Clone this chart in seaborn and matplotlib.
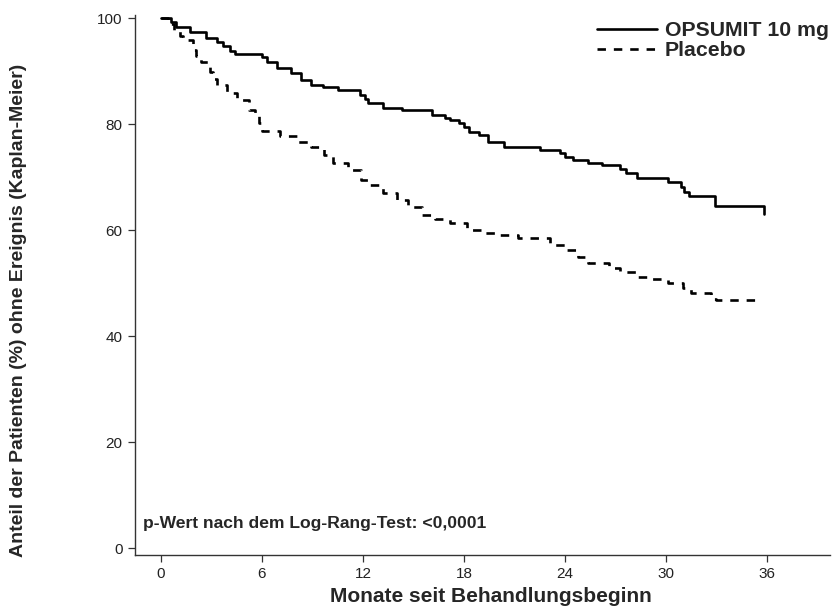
import matplotlib
matplotlib.use("Agg")
import matplotlib.pyplot as plt
import seaborn as sns
import pandas as pd

# ---- data ----
opsumit_months = [0, 0.6, 0.9, 1.7, 2.7, 3.3, 3.7, 4.1, 4.4, 6.0, 6.3, 6.9, 7.7, 8.3, 8.9,
                  9.6, 10.5, 11.8, 12.1, 12.3, 13.2, 14.3, 16.1, 16.9, 17.2, 17.7, 18.0,
                  18.3, 18.9, 19.4, 20.4, 22.5, 23.7, 24.0, 24.5, 25.4, 26.2, 27.3, 27.6,
                  28.3, 30.1, 30.9, 31.1, 31.4, 32.9, 35.8]
opsumit_surv = [100, 99.2, 98.3, 97.4, 96.2, 95.5, 94.7, 93.8, 93.2, 92.6, 91.7, 90.6, 89.6,
                88.3, 87.4, 87.0, 86.4, 85.5, 84.8, 84.0, 83.0, 82.6, 81.7, 81.2, 80.8,
                80.2, 79.4, 78.5, 77.9, 76.6, 75.7, 75.1, 74.5, 73.8, 73.2, 72.6, 72.3,
                71.5, 70.8, 69.8, 69.1, 68.2, 67.2, 66.4, 64.5, 63.0]

placebo_months = [0, 0.4, 0.8, 1.1, 1.3, 1.9, 2.1, 2.4, 2.9, 3.1, 3.3, 3.9, 4.5, 5.2, 5.6,
                  5.8, 6.0, 7.1, 8.1, 8.9, 9.7, 10.2, 11.1, 11.9, 12.3, 13.2, 14.0, 14.7,
                  15.5, 16.3, 17.2, 18.2, 19.0, 20.1, 21.2, 23.1, 24.0, 24.8, 25.4, 26.6,
                  27.3, 28.3, 29.1, 30.1, 31.0, 31.5, 32.7, 33.0, 35.6]
placebo_surv = [100, 98.9, 97.7, 96.6, 95.8, 94.0, 92.8, 91.7, 89.8, 88.5, 87.4, 85.8, 84.5,
                82.6, 81.5, 80.2, 78.7, 77.7, 76.6, 75.7, 74.2, 72.6, 71.3, 69.4, 68.5,
                67.0, 65.7, 64.3, 62.8, 62.1, 61.3, 60.0, 59.4, 59.1, 58.5, 57.2, 56.2,
                54.9, 53.8, 52.8, 52.1, 51.1, 50.8, 50.0, 49.1, 48.1, 47.0, 46.8, 46.8]

groups = ["OPSUMIT 10 mg", "Placebo"]
x_ticks = [0, 6, 12, 18, 24, 30, 36]
y_ticks = [0, 20, 40, 60, 80, 100]

x_label = "Monate seit Behandlungsbeginn"
y_label = "Anteil der Patienten (%) ohne Ereignis (Kaplan-Meier)"
p_text = "p-Wert nach dem Log-Rang-Test: <0,0001"

df = pd.concat([
    pd.DataFrame({"Monate": opsumit_months, "Anteil": opsumit_surv, "Gruppe": groups[0]}),
    pd.DataFrame({"Monate": placebo_months, "Anteil": placebo_surv, "Gruppe": groups[1]}),
], ignore_index=True)

sns.set_theme(style="ticks")
plt.rcParams["font.family"] = ["Liberation Sans", "DejaVu Sans"]

fig = plt.figure(figsize=(8.32, 6.10), dpi=100)
ax = fig.add_axes([135 / 832, 1 - 555 / 610, (830 - 135) / 832, (555 - 15) / 610])

sns.lineplot(data=df, x="Monate", y="Anteil", hue="Gruppe", style="Gruppe",
             palette={groups[0]: "black", groups[1]: "black"},
             dashes={groups[0]: "", groups[1]: (3.2, 3.0)},
             drawstyle="steps-post", estimator=None, sort=False,
             linewidth=1.9, ax=ax, legend=True)

ax.set_xlim(-1.545, 39.75)
ax.set_ylim(-1.32, 100.57)
ax.set_xticks(x_ticks)
ax.set_yticks(y_ticks)
ax.set_xticklabels([str(t) for t in x_ticks], fontsize=11, family=["Liberation Sans Narrow", "Liberation Sans"])
ax.set_yticklabels([str(t) for t in y_ticks], fontsize=11, family=["Liberation Sans", "DejaVu Sans"])

for s in ["top", "right"]:
    ax.spines[s].set_visible(False)
for s in ["left", "bottom"]:
    ax.spines[s].set_color("#333333")
    ax.spines[s].set_linewidth(1.0)
ax.tick_params(axis="both", direction="out", length=5, width=0.9, color="#333333",
               colors="#222222", pad=4)

ax.set_xlabel(x_label, fontsize=15, fontweight="bold",
              family=["Liberation Sans Narrow", "Liberation Sans"])
ax.xaxis.set_label_coords((491 - 135) / 695, -(587 - 555) / 540)
ax.set_ylabel(y_label, fontsize=14, fontweight="bold")
ax.yaxis.set_label_coords(-(135 - 27) / 695, (555 - 310) / 540)

ax.text(0.0115, 0.05, p_text, transform=ax.transAxes, fontsize=12.6, fontweight="bold",
        ha="left", va="baseline")

handles, labels = ax.get_legend_handles_labels()
leg = ax.legend(handles, labels, loc="upper left",
                bbox_to_anchor=(597 / 832, 1 - 21 / 610), bbox_transform=fig.transFigure,
                frameon=False, borderpad=0, borderaxespad=0, handlelength=2.8,
                handletextpad=0.38, labelspacing=0.05, prop={"size": 15.3, "weight": "bold"})

fig.savefig("out.png", dpi=100, facecolor="white")
